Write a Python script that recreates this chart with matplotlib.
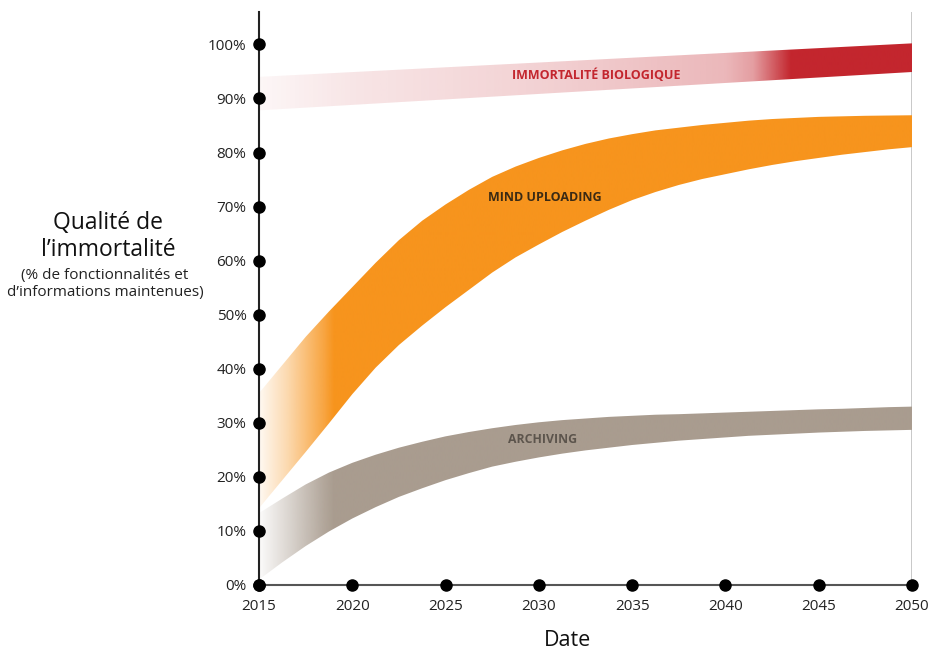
import numpy as np
import matplotlib.pyplot as plt
from matplotlib.patches import PathPatch
from matplotlib.colors import to_rgb

plt.rcParams["font.family"] = ["Open Sans", "DejaVu Sans"]

# --- data (quality in %) ---
years = [2015, 2016.25, 2017.5, 2018.75, 2020, 2021.25, 2022.5, 2023.75,
         2025, 2026.25, 2027.5, 2028.75, 2030, 2031.25, 2032.5, 2033.75,
         2035, 2036.25, 2037.5, 2038.75, 2040, 2041.25, 2042.5, 2043.75,
         2045, 2046.25, 2047.5, 2048.75, 2050]
mind_hi = [35.5, 40.7, 45.9, 50.6, 55.1, 59.6, 63.8, 67.4,
           70.4, 73.1, 75.5, 77.4, 79.0, 80.4, 81.6, 82.6,
           83.4, 84.1, 84.6, 85.1, 85.5, 85.9, 86.2, 86.4,
           86.6, 86.7, 86.8, 86.85, 86.9]
mind_lo = [14.2, 19.4, 24.6, 29.9, 35.3, 40.2, 44.4, 48.0,
           51.4, 54.6, 57.8, 60.6, 63.0, 65.3, 67.4, 69.4,
           71.2, 72.7, 74.0, 75.1, 76.0, 76.9, 77.7, 78.4,
           79.0, 79.6, 80.1, 80.6, 81.0]
arch_hi = [13.3, 16.0, 18.6, 20.8, 22.6, 24.1, 25.4, 26.5,
           27.5, 28.3, 29.0, 29.6, 30.1, 30.5, 30.8, 31.1,
           31.3, 31.5, 31.6, 31.75, 31.9, 32.05, 32.2, 32.35,
           32.5, 32.6, 32.75, 32.9, 33.0]
arch_lo = [1.0, 4.2, 7.2, 9.9, 12.3, 14.4, 16.3, 17.9,
           19.4, 20.7, 21.9, 22.8, 23.6, 24.3, 24.9, 25.4,
           25.9, 26.3, 26.7, 27.0, 27.3, 27.6, 27.8, 28.0,
           28.2, 28.35, 28.5, 28.6, 28.7]
bio_years = [2015, 2050]
bio_hi = [94.0, 100.2]
bio_lo = [87.8, 94.9]

y_ticks = list(range(0, 101, 10))
x_ticks = list(range(2015, 2051, 5))

RED = "#C3262E"
ORANGE = "#F7941D"
GREY = "#A99C8F"

fig = plt.figure(figsize=(9.31, 6.52), dpi=100)
ax = fig.add_axes([259 / 931, 67 / 652, 653 / 931, 573 / 652])


def band(x, lo, hi, color, fade_x, fade_a):
    # invisible polygon used only as clip path for a horizontal alpha gradient
    poly = ax.fill_between(x, lo, hi, facecolor="none", edgecolor="none", linewidth=0)
    patch = PathPatch(poly.get_paths()[0], transform=ax.transData,
                      facecolor="none", edgecolor="none")
    ax.add_patch(patch)
    gx = np.linspace(2015, 2050, 1400)
    img = np.ones((1, gx.size, 4))
    img[..., :3] = to_rgb(color)
    img[0, :, 3] = np.interp(gx, fade_x, fade_a)
    im = ax.imshow(img, extent=(2015, 2050, 0, 106), aspect="auto", origin="lower",
                   interpolation="bilinear", zorder=2)
    im.set_clip_path(patch)


band(bio_years, bio_lo, bio_hi, RED,
     [2015, 2020, 2030, 2040, 2041.5, 2043.5, 2050],
     [0.04, 0.12, 0.21, 0.33, 0.45, 1.0, 1.0])
band(years, mind_lo, mind_hi, ORANGE,
     [2015, 2016.5, 2018.5, 2019.0, 2050],
     [0.06, 0.35, 0.85, 1.0, 1.0])
band(years, arch_lo, arch_hi, GREY,
     [2015, 2016.5, 2018.5, 2019.0, 2050],
     [0.04, 0.4, 0.9, 1.0, 1.0])

# band labels
ax.text(2033.1, 94.3, "IMMORTALITÉ BIOLOGIQUE", color=RED, fontsize=9,
        fontweight="bold", ha="center", va="center", zorder=4)
ax.text(2030.3, 71.7, "MIND UPLOADING", color="#3B2A14", fontsize=9,
        fontweight="bold", ha="center", va="center", zorder=4)
ax.text(2030.2, 27.0, "ARCHIVING", color="#5C544C", fontsize=8.8,
        fontweight="bold", ha="center", va="center", zorder=4)

ax.set_xlim(2015, 2050)
ax.set_ylim(0, 106)

for s in ["top", "right"]:
    ax.spines[s].set_visible(False)
ax.spines["left"].set_color("#222222")
ax.spines["left"].set_linewidth(1.5)
ax.spines["bottom"].set_color("#555555")
ax.spines["bottom"].set_linewidth(1.5)
ax.axvline(2050, color="#C4C4C4", lw=1.3, zorder=1)

ax.set_yticks(y_ticks, labels=[f"{v}%" for v in y_ticks])
ax.set_xticks(x_ticks, labels=[str(v) for v in x_ticks])
ax.tick_params(axis="y", length=0, pad=9, labelsize=11, labelcolor="#222222")
ax.tick_params(axis="x", length=0, pad=10, labelsize=11, labelcolor="#222222")

ax.scatter([2015] * len(y_ticks), y_ticks, s=64, color="black", zorder=5, clip_on=False)
ax.scatter(x_ticks, [0] * len(x_ticks), s=64, color="black", zorder=5, clip_on=False)

# axis titles
fig.text(108 / 931, 1 - 223 / 652, "Qualité de", fontsize=16.5, ha="center",
         va="center", color="#111111")
fig.text(108 / 931, 1 - 250 / 652, "l’immortalité", fontsize=16.5, ha="center",
         va="center", color="#111111")
fig.text(105 / 931, 1 - 276 / 652, "(% de fonctionnalités et", fontsize=11,
         ha="center", va="center", color="#222222")
fig.text(105 / 931, 1 - 292 / 652, "d’informations maintenues)", fontsize=11,
         ha="center", va="center", color="#222222")
fig.text(567 / 931, 1 - 640 / 652, "Date", fontsize=15.5, ha="center", va="center",
         color="#111111")

fig.savefig("out.png", dpi=100, facecolor="white")
